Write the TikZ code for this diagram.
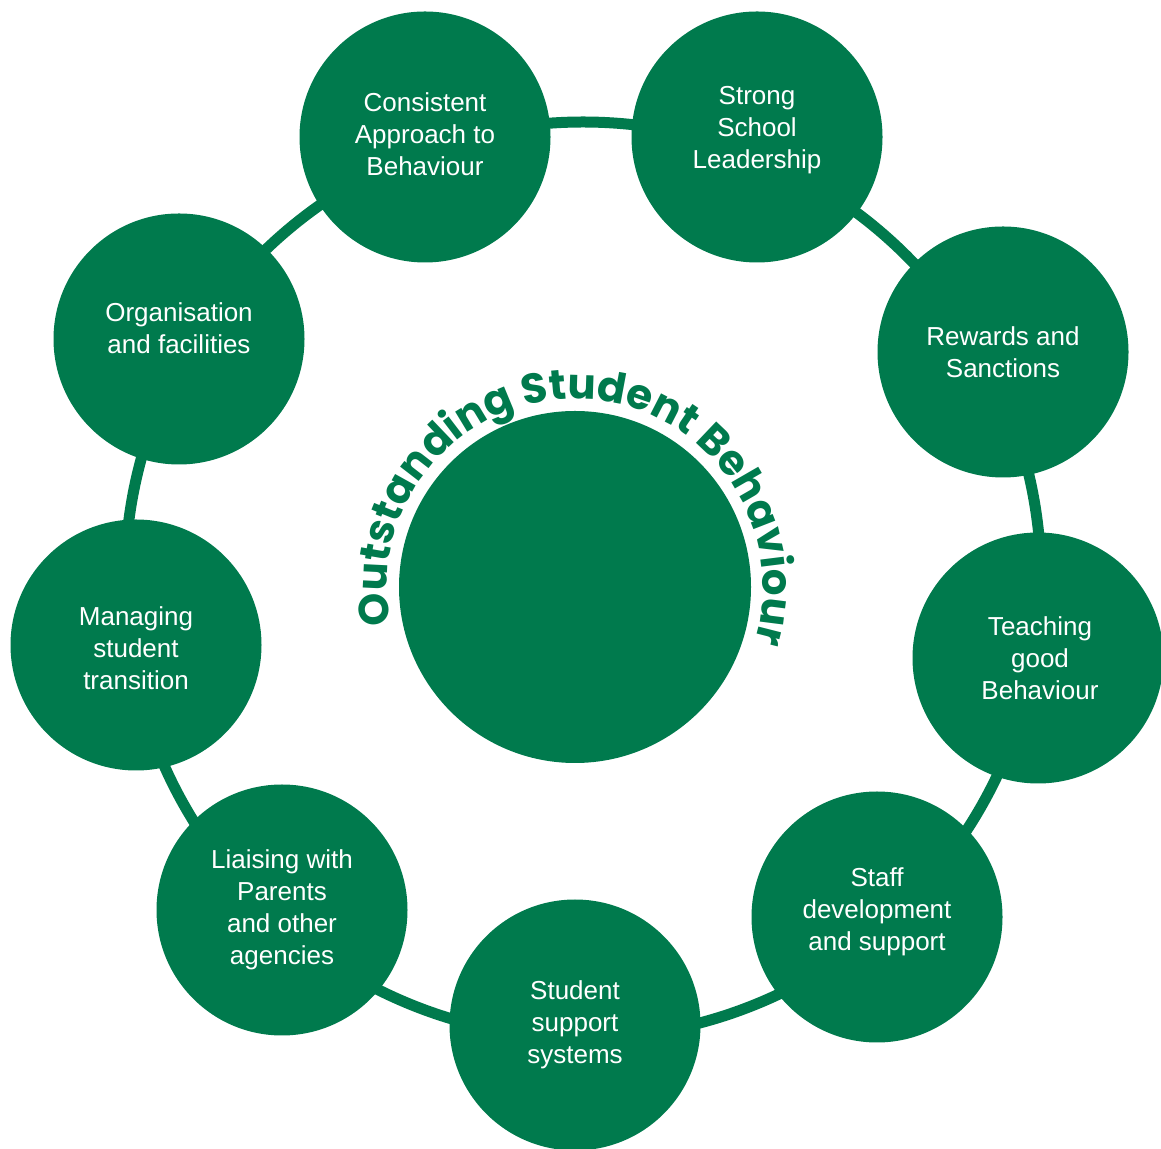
\documentclass[tikz,border=0pt]{standalone}
\usepackage{fontspec}
\setmainfont{Liberation Sans}
\newfontfamily\titlefont{Poppins}
\usetikzlibrary{decorations.text, backgrounds}
\definecolor{schoolgreen}{RGB}{0,122,77}

\tikzset{
  topic/.style={circle, fill=schoolgreen, minimum size=251pt, inner sep=0pt},
  caption/.style={text=white, align=center, font=\fontsize{26}{32}\selectfont},
  ring/.style={draw=schoolgreen, line width=11pt}
}

\begin{document}
\begin{tikzpicture}[x=1pt, y=1pt]
\useasboundingbox (0,0) rectangle (1161,1148);

\coordinate (hub) at (583,568);
\node[circle, fill=schoolgreen, minimum size=352pt, inner sep=0pt] (core) at (575,561) {};

\node[topic] (cons) at (425,1011) {};
\node[topic] (lead) at (757,1011) {};
\node[topic] (rew) at (1003,796) {};
\node[topic] (teach) at (1038,490) {};
\node[topic] (staff) at (877,231) {};
\node[topic] (stud) at (575,123) {};
\node[topic] (liais) at (282,238) {};
\node[topic] (manag) at (136,503) {};
\node[topic] (org) at (179,809) {};

\node[caption] (cons-t) at ([yshift=3]cons.center) {Consistent\\Approach to\\Behaviour};
\node[caption] (lead-t) at ([yshift=7]lead.center) {Strong\\School\\Leadership};
\node[caption] (rew-t) at (rew.center) {Rewards and\\Sanctions};
\node[caption] (teach-t) at ([xshift=2]teach.center) {Teaching\\good\\Behaviour};
\node[caption] (staff-t) at ([yshift=5]staff.center) {Staff\\development\\and support};
\node[caption] (stud-t) at (stud.center) {Student\\support\\systems};
\node[caption] (liais-t) at (liais.center) {Liaising with\\Parents\\and other\\agencies};
\node[caption] (manag-t) at ([yshift=-3]manag.center) {Managing\\student\\transition};
\node[caption] (org-t) at ([yshift=11]org.center) {Organisation\\and facilities};

% ring behind the circles
\begin{scope}[on background layer]
\draw[ring] (hub) circle[radius=458];
\end{scope}

% curved title round the middle circle
\path[decorate, decoration={text along path, text align=fit to path,
  text={|\titlefont\bfseries\fontsize{42}{42}\selectfont\color{schoolgreen}|Outstanding Student Behaviour}}]
  ([shift={(191.5:188)}]core.center) arc[start angle=191.5, end angle=-15, radius=188];
\end{tikzpicture}
\end{document}
